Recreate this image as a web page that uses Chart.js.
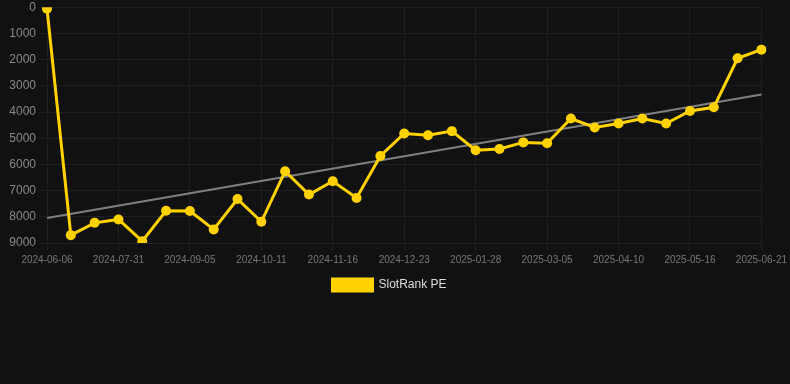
<!DOCTYPE html>
<html>
<head>
<meta charset="utf-8">
<script src="https://cdn.jsdelivr.net/npm/chart.js@4/dist/chart.umd.min.js"></script>
<style>
  html, body { margin: 0; padding: 0; background: #111111; overflow: hidden; }
  #wrap { position: relative; width: 790px; height: 308px; margin-top: -3px; }
</style>
</head>
<body>
<div id="wrap"><canvas id="chart-rank"></canvas></div>
<script>
// dates of each sample
const dates = [
  '2024-06-06', '2024-06-24', '2024-07-12', '2024-07-31', '2024-08-12', '2024-08-24',
  '2024-09-05', '2024-09-17', '2024-09-29', '2024-10-11', '2024-10-23', '2024-11-04',
  '2024-11-16', '2024-11-28', '2024-12-10', '2024-12-23', '2025-01-04', '2025-01-16',
  '2025-01-28', '2025-02-09', '2025-02-21', '2025-03-05', '2025-03-17', '2025-03-29',
  '2025-04-10', '2025-04-22', '2025-05-04', '2025-05-16', '2025-05-28', '2025-06-09',
  '2025-06-21'
];

// rank values (lower is better)
const rankPE = [
  60, 8700, 8230, 8100, 8930, 7770,
  7780, 8480, 7320, 8190, 6260, 7150,
  6640, 7280, 5680, 4820, 4890, 4730,
  5460, 5410, 5160, 5190, 4250, 4590,
  4440, 4250, 4440, 3960, 3820, 1950,
  1620
];

// trend line end points
const trendDates = ['2024-06-06', '2025-06-21'];
const trendValues = [8050, 3330];

const yTicks = [0, 1000, 2000, 3000, 4000, 5000, 6000, 7000, 8000, 9000];

let ctx = document.getElementById('chart-rank');
let myChart = new Chart(ctx, {
  type: 'line',
  data: {
    labels: dates,
    datasets: [
      {
        label: 'SlotRank PE',
        data: rankPE,
        borderColor: '#ffd200',
        backgroundColor: '#ffd200',
        borderWidth: 3,
        pointRadius: 5,
        pointBackgroundColor: '#ffd200',
        pointBorderWidth: 0,
        tension: 0
      },
      {
        label: 'trend',
        data: trendDates.map((d, i) => ({ x: d, y: trendValues[i] })),
        borderColor: '#808080',
        borderWidth: 2,
        pointRadius: 0,
        fill: false
      }
    ]
  },
  options: {
    responsive: true,
    maintainAspectRatio: false,
    animation: false,
    layout: { autoPadding: false, padding: { top: 0, right: 11, bottom: 4, left: 0 } },
    plugins: {
      legend: {
        position: 'bottom',
        labels: {
          color: '#dddddd',
          font: { family: 'Liberation Sans, Arial', size: 12 },
          boxWidth: 40,
          boxHeight: 12,
          filter: item => item.text !== 'trend'
        }
      },
      tooltip: { enabled: false }
    },
    scales: {
      x: {
        grid: { color: '#1f1f1f' },
        border: { display: false },
        ticks: {
          color: '#777777',
          font: { family: 'Liberation Sans, Arial', size: 10 },
          maxRotation: 0,
          autoSkip: false,
          callback: function(v, i) { return i % 3 === 0 ? dates[i] : null; }
        }
      },
      y: {
        reverse: true,
        min: 0,
        max: 9000,
        grid: { color: '#1f1f1f' },
        border: { display: false },
        afterBuildTicks: axis => { axis.ticks = yTicks.map(v => ({ value: v })); },
        afterFit: axis => { axis.width = 47; },
        ticks: {
          color: '#888888',
          font: { family: 'Liberation Sans, Arial', size: 12 },
          callback: v => String(v)
        }
      }
    }
  }
});
</script>
</body>
</html>
